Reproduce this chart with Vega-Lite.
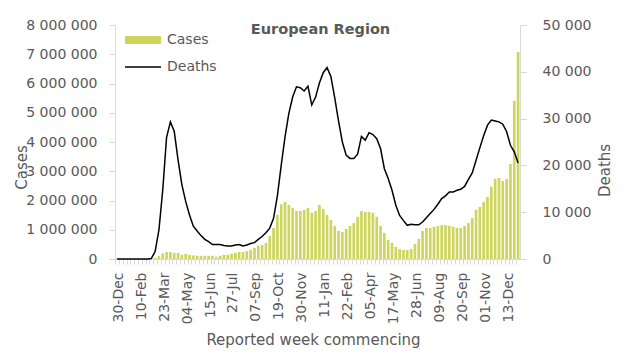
{
  "$schema": "https://vega.github.io/schema/vega-lite/v6.json",
  "autosize": {"type": "none"},
  "padding": {"left": 115, "top": 25, "right": 108, "bottom": 97},
  "width": 405,
  "height": 234,
  "config": {
    "view": {"stroke": null},
    "font": "DejaVu Sans",
    "axis": {"labelFont": "DejaVu Sans", "labelFontSize": 14, "labelColor": "#595959", "titleFont": "DejaVu Sans", "titleFontSize": 15, "titleFontWeight": "normal", "titleColor": "#595959", "domainColor": "#d9d9d9", "tickColor": "#d9d9d9", "grid": false}
  },
  "title": {"text": "European Region", "frame": "group", "anchor": "middle", "offset": -19, "fontSize": 14.5, "font": "DejaVu Sans", "fontWeight": "bold", "color": "#595959", "dx": 3},
  "data": {"values": [
    {"date": "2019-12-30", "cases": 0, "deaths": 0},
    {"date": "2020-01-06", "cases": 0, "deaths": 0},
    {"date": "2020-01-13", "cases": 0, "deaths": 0},
    {"date": "2020-01-20", "cases": 0, "deaths": 0},
    {"date": "2020-01-27", "cases": 100, "deaths": 0},
    {"date": "2020-02-03", "cases": 200, "deaths": 0},
    {"date": "2020-02-10", "cases": 300, "deaths": 0},
    {"date": "2020-02-17", "cases": 500, "deaths": 0},
    {"date": "2020-02-24", "cases": 2000, "deaths": 0},
    {"date": "2020-03-02", "cases": 8000, "deaths": 100},
    {"date": "2020-03-09", "cases": 35000, "deaths": 1600},
    {"date": "2020-03-16", "cases": 100000, "deaths": 6200},
    {"date": "2020-03-23", "cases": 190000, "deaths": 14800},
    {"date": "2020-03-30", "cases": 240000, "deaths": 26000},
    {"date": "2020-04-06", "cases": 240000, "deaths": 29300},
    {"date": "2020-04-13", "cases": 210000, "deaths": 27300},
    {"date": "2020-04-20", "cases": 210000, "deaths": 21200},
    {"date": "2020-04-27", "cases": 140000, "deaths": 15900},
    {"date": "2020-05-04", "cases": 170000, "deaths": 12300},
    {"date": "2020-05-11", "cases": 140000, "deaths": 9400},
    {"date": "2020-05-18", "cases": 120000, "deaths": 7000},
    {"date": "2020-05-25", "cases": 110000, "deaths": 6000},
    {"date": "2020-06-01", "cases": 100000, "deaths": 5000},
    {"date": "2020-06-08", "cases": 110000, "deaths": 4200},
    {"date": "2020-06-15", "cases": 110000, "deaths": 3700},
    {"date": "2020-06-22", "cases": 110000, "deaths": 3100},
    {"date": "2020-06-29", "cases": 80000, "deaths": 3100},
    {"date": "2020-07-06", "cases": 110000, "deaths": 3100},
    {"date": "2020-07-13", "cases": 140000, "deaths": 2900},
    {"date": "2020-07-20", "cases": 140000, "deaths": 2800},
    {"date": "2020-07-27", "cases": 180000, "deaths": 2800},
    {"date": "2020-08-03", "cases": 210000, "deaths": 3000},
    {"date": "2020-08-10", "cases": 240000, "deaths": 3100},
    {"date": "2020-08-17", "cases": 240000, "deaths": 2800},
    {"date": "2020-08-24", "cases": 270000, "deaths": 3000},
    {"date": "2020-08-31", "cases": 310000, "deaths": 3300},
    {"date": "2020-09-07", "cases": 380000, "deaths": 3500},
    {"date": "2020-09-14", "cases": 450000, "deaths": 4200},
    {"date": "2020-09-21", "cases": 480000, "deaths": 4800},
    {"date": "2020-09-28", "cases": 550000, "deaths": 5600},
    {"date": "2020-10-05", "cases": 790000, "deaths": 6600},
    {"date": "2020-10-12", "cases": 1060000, "deaths": 8700},
    {"date": "2020-10-19", "cases": 1510000, "deaths": 13500},
    {"date": "2020-10-26", "cases": 1870000, "deaths": 20000},
    {"date": "2020-11-02", "cases": 1950000, "deaths": 26100},
    {"date": "2020-11-09", "cases": 1850000, "deaths": 31100},
    {"date": "2020-11-16", "cases": 1750000, "deaths": 34600},
    {"date": "2020-11-23", "cases": 1640000, "deaths": 36800},
    {"date": "2020-11-30", "cases": 1640000, "deaths": 36600},
    {"date": "2020-12-07", "cases": 1680000, "deaths": 35900},
    {"date": "2020-12-14", "cases": 1750000, "deaths": 36900},
    {"date": "2020-12-21", "cases": 1580000, "deaths": 32900},
    {"date": "2020-12-28", "cases": 1640000, "deaths": 34600},
    {"date": "2021-01-04", "cases": 1850000, "deaths": 37600},
    {"date": "2021-01-11", "cases": 1710000, "deaths": 39800},
    {"date": "2021-01-18", "cases": 1510000, "deaths": 40900},
    {"date": "2021-01-25", "cases": 1340000, "deaths": 39000},
    {"date": "2021-02-01", "cases": 1130000, "deaths": 34500},
    {"date": "2021-02-08", "cases": 960000, "deaths": 29500},
    {"date": "2021-02-15", "cases": 920000, "deaths": 25000},
    {"date": "2021-02-22", "cases": 1030000, "deaths": 22200},
    {"date": "2021-03-01", "cases": 1130000, "deaths": 21500},
    {"date": "2021-03-08", "cases": 1230000, "deaths": 21500},
    {"date": "2021-03-15", "cases": 1440000, "deaths": 22400},
    {"date": "2021-03-22", "cases": 1640000, "deaths": 26200},
    {"date": "2021-03-29", "cases": 1610000, "deaths": 25400},
    {"date": "2021-04-05", "cases": 1610000, "deaths": 27000},
    {"date": "2021-04-12", "cases": 1580000, "deaths": 26600},
    {"date": "2021-04-19", "cases": 1440000, "deaths": 25700},
    {"date": "2021-04-26", "cases": 1130000, "deaths": 23600},
    {"date": "2021-05-03", "cases": 890000, "deaths": 19300},
    {"date": "2021-05-10", "cases": 650000, "deaths": 17200},
    {"date": "2021-05-17", "cases": 550000, "deaths": 14700},
    {"date": "2021-05-24", "cases": 410000, "deaths": 11500},
    {"date": "2021-05-31", "cases": 340000, "deaths": 9300},
    {"date": "2021-06-07", "cases": 310000, "deaths": 8200},
    {"date": "2021-06-14", "cases": 310000, "deaths": 7200},
    {"date": "2021-06-21", "cases": 340000, "deaths": 7400},
    {"date": "2021-06-28", "cases": 510000, "deaths": 7300},
    {"date": "2021-07-05", "cases": 690000, "deaths": 7300},
    {"date": "2021-07-12", "cases": 960000, "deaths": 7900},
    {"date": "2021-07-19", "cases": 1060000, "deaths": 8800},
    {"date": "2021-07-26", "cases": 1060000, "deaths": 9700},
    {"date": "2021-08-02", "cases": 1100000, "deaths": 10600},
    {"date": "2021-08-09", "cases": 1130000, "deaths": 11700},
    {"date": "2021-08-16", "cases": 1160000, "deaths": 12900},
    {"date": "2021-08-23", "cases": 1160000, "deaths": 13500},
    {"date": "2021-08-30", "cases": 1130000, "deaths": 14300},
    {"date": "2021-09-06", "cases": 1100000, "deaths": 14300},
    {"date": "2021-09-13", "cases": 1060000, "deaths": 14700},
    {"date": "2021-09-20", "cases": 1060000, "deaths": 14900},
    {"date": "2021-09-27", "cases": 1130000, "deaths": 15500},
    {"date": "2021-10-04", "cases": 1230000, "deaths": 17000},
    {"date": "2021-10-11", "cases": 1400000, "deaths": 18400},
    {"date": "2021-10-18", "cases": 1680000, "deaths": 21100},
    {"date": "2021-10-25", "cases": 1780000, "deaths": 23800},
    {"date": "2021-11-01", "cases": 1950000, "deaths": 26400},
    {"date": "2021-11-08", "cases": 2120000, "deaths": 28600},
    {"date": "2021-11-15", "cases": 2470000, "deaths": 29700},
    {"date": "2021-11-22", "cases": 2740000, "deaths": 29500},
    {"date": "2021-11-29", "cases": 2770000, "deaths": 29300},
    {"date": "2021-12-06", "cases": 2670000, "deaths": 28800},
    {"date": "2021-12-13", "cases": 2740000, "deaths": 27200},
    {"date": "2021-12-20", "cases": 3250000, "deaths": 24300},
    {"date": "2021-12-27", "cases": 5410000, "deaths": 22900},
    {"date": "2022-01-03", "cases": 7080000, "deaths": 20500}
  ]},
  "encoding": {
    "x": {
      "field": "date", "type": "ordinal", "sort": null,
      "scale": {"paddingInner": 0.3, "paddingOuter": 0.15},
      "axis": {
        "title": "Reported week commencing",
        "titleX": 198, "titleY": 80, "titleBaseline": "middle",
        "labelAngle": -90, "labelAlign": "right", "labelBaseline": "middle",
        "labelPadding": 8, "tickSize": 5, "bandPosition": 0, "labelOffset": 1.9,
        "labelExpr": "(round((toDate(datum.value) - toDate('2019-12-30')) / 604800000) % 6 == 0) ? utcFormat(toDate(datum.value), '%d-%b') : ''"
      }
    }
  },
  "layer": [
    {
      "mark": {"type": "bar"},
      "encoding": {
        "y": {"field": "cases", "type": "quantitative", "scale": {"domain": [0, 8000000], "nice": false},
          "axis": {"title": "Cases", "values": [0,1000000,2000000,3000000,4000000,5000000,6000000,7000000,8000000], "tickSize": 6, "labelPadding": 12,
            "labelExpr": "replace(format(datum.value, ','), regexp(',', 'g'), ' ')",
            "titleX": -94, "titleY": 142, "titleBaseline": "middle", "titleAlign": "center", "titleAngle": -90}},
        "color": {"datum": "Cases", "scale": {"domain": ["Cases", "Deaths"], "range": ["#cdd55c", "#000000"]},
          "legend": {"title": null, "orient": "none", "legendX": 21, "legendY": 8, "symbolType": "stroke", "symbolSize": 1296, "labelFont": "DejaVu Sans", "labelFontSize": 14, "labelColor": "#595959", "labelOffset": 17, "rowPadding": 4,
            "encode": {"symbols": {"update": {
              "strokeWidth": {"signal": "datum.value === 'Cases' ? 8 : 1.5"},
              "stroke": {"signal": "datum.value === 'Cases' ? '#cdd55c' : '#000000'"},
              "opacity": {"value": 1}
            }}}}}
      }
    },
    {
      "mark": {"type": "line", "strokeWidth": 1.5, "interpolate": "linear"},
      "encoding": {
        "y": {"field": "deaths", "type": "quantitative", "scale": {"domain": [0, 50000], "nice": false},
          "axis": {"orient": "right", "title": "Deaths", "values": [0,10000,20000,30000,40000,50000], "tickSize": 6, "labelPadding": 16,
            "labelExpr": "replace(format(datum.value, ','), regexp(',', 'g'), ' ')",
            "titleX": 84, "titleY": 145, "titleBaseline": "middle", "titleAlign": "center", "titleAngle": -90}},
        "color": {"datum": "Deaths"}
      }
    }
  ],
  "resolve": {"scale": {"y": "independent"}}
}
